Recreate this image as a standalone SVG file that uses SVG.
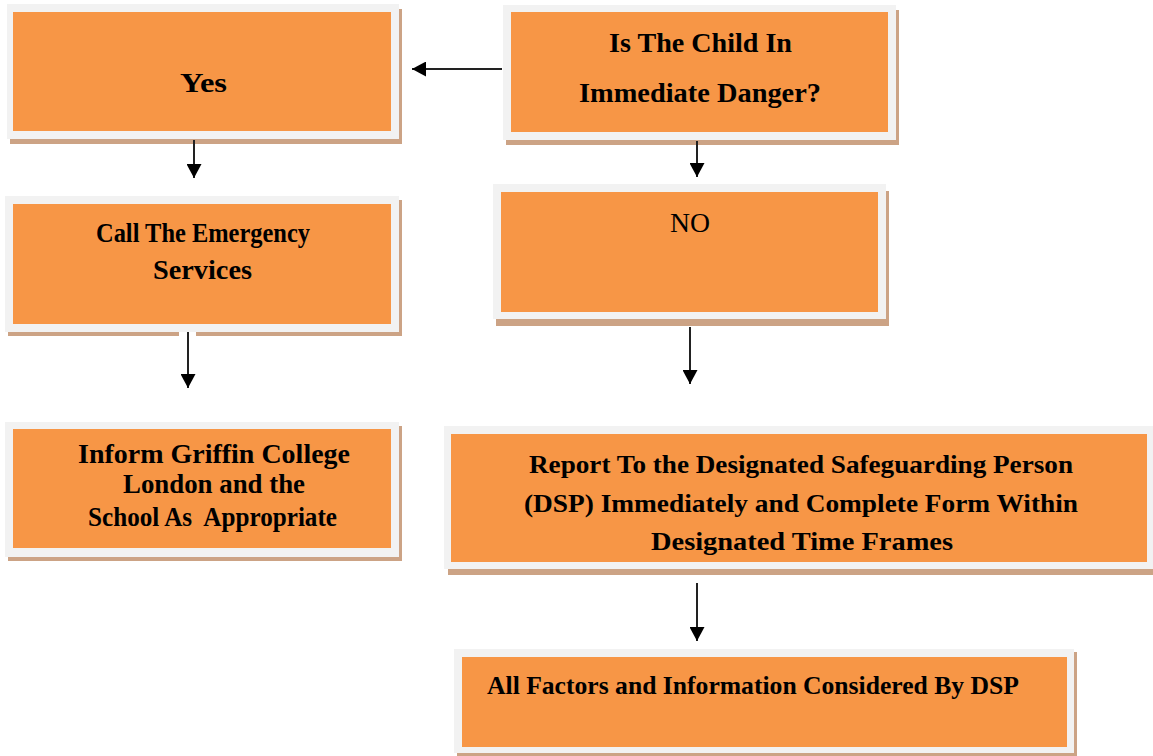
<svg xmlns="http://www.w3.org/2000/svg" width="1153" height="756" viewBox="0 0 1153 756">
<style>
.sh{fill:#cca385}
.fr{fill:#f2f2f2}
.bx{fill:#f79646}
.t{font-family:"Liberation Serif","Times New Roman",serif;font-weight:bold;font-size:27px;fill:#000}
.tr{font-size:25px}
.n{font-weight:normal}
.c{stroke:#222;stroke-width:2;fill:none}
</style>
<defs>
<marker id="ah" markerUnits="userSpaceOnUse" markerWidth="15" markerHeight="15" refX="14" refY="7.5" orient="auto">
<path d="M0,0 L14,7.5 L0,15 z" fill="#000"/>
</marker>
</defs>
<rect width="1153" height="756" fill="#fff"/>
<g id="yes">
<rect class="sh" x="10" y="9" width="392" height="135"/>
<rect class="fr" x="7" y="4" width="392" height="135"/>
<rect class="bx" x="13" y="12" width="378" height="119"/>
<text class="t" x="180" y="92" textLength="47" lengthAdjust="spacingAndGlyphs">Yes</text>
</g>
<g id="question">
<rect class="sh" x="506" y="10" width="393" height="135"/>
<rect class="fr" x="503" y="5" width="393" height="135"/>
<rect class="bx" x="511" y="12" width="377" height="120"/>
<text class="t" x="609" y="52" textLength="183" lengthAdjust="spacingAndGlyphs">Is The Child In</text>
<text class="t" x="579" y="102" textLength="242" lengthAdjust="spacingAndGlyphs">Immediate Danger?</text>
</g>
<g id="no">
<rect class="sh" x="496" y="191" width="393" height="135"/>
<rect class="fr" x="493" y="184" width="393" height="135"/>
<rect class="bx" x="501" y="192" width="377" height="120"/>
<text class="t n" x="670" y="232" textLength="40" lengthAdjust="spacingAndGlyphs">NO</text>
</g>
<g id="call">
<rect class="sh" x="8" y="200" width="394" height="136"/>
<rect class="fr" x="5" y="196" width="394" height="136"/>
<rect class="bx" x="13" y="204" width="378" height="120"/>
<text class="t" x="96" y="242" textLength="214" lengthAdjust="spacingAndGlyphs">Call The Emergency</text>
<text class="t" x="153" y="279" textLength="99" lengthAdjust="spacingAndGlyphs">Services</text>
</g>
<g id="inform">
<rect class="sh" x="8" y="426" width="394" height="135"/>
<rect class="fr" x="5" y="422" width="394" height="135"/>
<rect class="bx" x="13" y="429" width="378" height="119"/>
<text class="t" x="78" y="463" textLength="272" lengthAdjust="spacingAndGlyphs">Inform Griffin College</text>
<text class="t" x="123" y="493" textLength="182" lengthAdjust="spacingAndGlyphs">London and the</text>
<text class="t" x="88" y="526" textLength="249" lengthAdjust="spacingAndGlyphs" xml:space="preserve">School As  Appropriate</text>
</g>
<g id="report">
<rect class="sh" x="448" y="432" width="715" height="143"/>
<rect class="fr" x="444" y="426" width="715" height="143"/>
<rect class="bx" x="451" y="434" width="696" height="128"/>
<text class="t tr" x="529" y="473" textLength="544" lengthAdjust="spacingAndGlyphs">Report To the Designated Safeguarding Person</text>
<text class="t tr" x="524" y="512" textLength="554" lengthAdjust="spacingAndGlyphs">(DSP) Immediately and Complete Form Within</text>
<text class="t tr" x="651" y="550" textLength="302" lengthAdjust="spacingAndGlyphs">Designated Time Frames</text>
</g>
<g id="factors">
<rect class="sh" x="457" y="652" width="620" height="104"/>
<rect class="fr" x="454" y="649" width="620" height="104"/>
<rect class="bx" x="462" y="657" width="605" height="90"/>
<text class="t tr" x="487" y="694" textLength="532" lengthAdjust="spacingAndGlyphs">All Factors and Information Considered By DSP</text>
</g>
<g id="connectors">
<rect x="179" y="332" width="17" height="5" fill="#fff"/>
<line class="c" x1="502" y1="69" x2="412" y2="69" marker-end="url(#ah)"/>
<line class="c" x1="194" y1="140" x2="194" y2="178" marker-end="url(#ah)"/>
<line class="c" x1="697" y1="141" x2="697" y2="177" marker-end="url(#ah)"/>
<line class="c" x1="188" y1="332" x2="188" y2="388" marker-end="url(#ah)"/>
<line class="c" x1="690" y1="327" x2="690" y2="384" marker-end="url(#ah)"/>
<line class="c" x1="697" y1="583" x2="697" y2="641" marker-end="url(#ah)"/>
</g>
</svg>
